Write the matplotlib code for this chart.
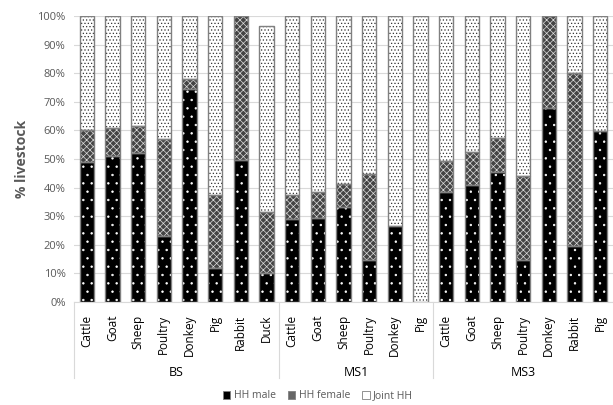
import matplotlib
matplotlib.use("Agg")
import matplotlib.pyplot as plt
from matplotlib.patches import Patch
from matplotlib.lines import Line2D
import numpy as np

plt.rcParams['font.family'] = ['Open Sans', 'DejaVu Sans']
plt.rcParams['hatch.linewidth'] = 0.5

groups = ["BS", "MS1", "MS3"]
group_sizes = [8, 6, 7]
categories = ["Cattle", "Goat", "Sheep", "Poultry", "Donkey", "Pig", "Rabbit", "Duck",
              "Cattle", "Goat", "Sheep", "Poultry", "Donkey", "Pig",
              "Cattle", "Goat", "Sheep", "Poultry", "Donkey", "Rabbit", "Pig"]
hh_male = [49, 51, 52, 23, 74.5, 12, 49.5, 10.2,
           29, 29.4, 33.3, 14.8, 26.7, 0,
           38.5, 40.8, 45.5, 14.8, 67.9, 19.6, 59.9]
hh_female = [11, 10, 9.5, 34, 3.5, 25.5, 50.5, 21.3,
             8.3, 8.9, 8.1, 29.9, 0, 0,
             10.7, 11.5, 11.9, 29.3, 32.1, 60.6, 0]
joint_hh = [40, 39, 38.5, 43, 22, 62.5, 0, 65,
            62.7, 61.7, 58.6, 55.3, 73.3, 100,
            50.8, 47.7, 42.6, 55.9, 0, 19.8, 40.1]
series_names = ["HH male", "HH female", "Joint HH"]
yticks = [0, 10, 20, 30, 40, 50, 60, 70, 80, 90, 100]

W, H = 613, 405
fig = plt.figure(figsize=(W / 100, H / 100), dpi=100)
ax = fig.add_axes([74 / W, (H - 302) / H, (613 - 74) / W, (302 - 16) / H])

x = np.arange(len(categories))
bw = 0.55
edge = '#808080'
styles = [
    dict(face='black', hatch='..', hcolor='white', lface='black'),
    dict(face='#444444', hatch='xxxxx', hcolor='#dddddd', lface='#666666'),
    dict(face='white', hatch='.....', hcolor='#333333', lface='white'),
]
data = [hh_male, hh_female, joint_hh]
bottom = np.zeros(len(categories))
for vals, st in zip(data, styles):
    v = np.array(vals, dtype=float)
    mask = v > 0
    ax.bar(x[mask], v[mask], bw, bottom=bottom[mask], color=st['face'],
           edgecolor='none', linewidth=0, zorder=2)
    ax.bar(x[mask], v[mask], bw, bottom=bottom[mask], color='none',
           edgecolor=st['hcolor'], hatch=st['hatch'], linewidth=0, zorder=3)
    ax.bar(x[mask], v[mask], bw, bottom=bottom[mask], color='none',
           edgecolor=edge, linewidth=1.0, zorder=4)
    bottom += v

ax.set_xlim(-0.5, len(categories) - 0.5)
ax.set_ylim(0, 100)
ax.set_yticks(yticks)
ax.set_yticklabels([f"{t}%" for t in yticks], color='#595959', fontsize=8)
ax.yaxis.grid(True, color='#d9d9d9', linewidth=0.8, zorder=0)
ax.set_axisbelow(True)
ax.tick_params(axis='y', length=0, pad=6)
ax.set_xticks(x)
ax.set_xticklabels(categories, rotation=90, fontsize=8.5, color='black', va='top')
ax.tick_params(axis='x', length=0, pad=9)
for s in ['top', 'right', 'left']:
    ax.spines[s].set_visible(False)
ax.spines['bottom'].set_color('#d9d9d9')
ax.spines['bottom'].set_linewidth(0.8)

ax.set_ylabel("% livestock", fontsize=10, fontweight='bold', color='#595959', labelpad=6)

# group separators and labels
trans = ax.get_xaxis_transform()
y_sep_bottom = -(378 - 302) / (302 - 16)
y_grp = -(372 - 302) / (302 - 16)
pos = -0.5
for g, n in zip(groups, group_sizes):
    ax.add_line(Line2D([pos, pos], [0, y_sep_bottom], transform=trans,
                       color='#d9d9d9', linewidth=0.8, clip_on=False))
    ax.text(pos + n / 2, y_grp, g, transform=trans, ha='center', va='center',
            fontsize=9, color='black')
    pos += n

handles = [Patch(facecolor=st['lface'], edgecolor=edge, linewidth=0.6) for st in styles]
fig.legend(handles, series_names, loc='center', bbox_to_anchor=(318 / W, 1 - 396 / H),
           ncol=3, frameon=False, fontsize=7.5, handlelength=0.7, handleheight=0.7,
           handletextpad=0.3, columnspacing=1.2, labelcolor='#595959')

fig.savefig("out.png", dpi=100)
